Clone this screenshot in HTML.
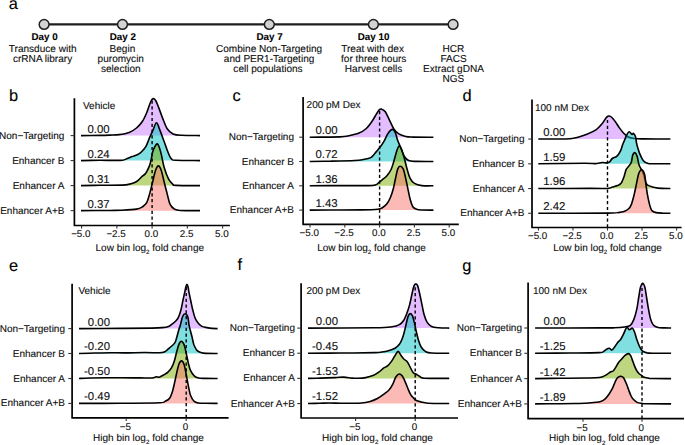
<!DOCTYPE html><html><head><meta charset="utf-8"><style>html,body{margin:0;padding:0;background:#fff;}svg{display:block;}text{font-family:"Liberation Sans", sans-serif;text-rendering:geometricPrecision;stroke:#000;stroke-width:0.2px;stroke-opacity:0.6;}</style></head><body>
<svg width="685" height="445" viewBox="0 0 685 445">
<rect width="685" height="445" fill="#fff"/>
<text x="8.70" y="8.90" font-size="16.40" text-anchor="start" font-weight="normal" fill="#000" >a</text>
<line x1="44.0" y1="24.40" x2="453" y2="24.40" stroke="#1e1e1e" stroke-width="2.3"/>
<circle cx="44.10" cy="24.40" r="4.9" fill="#d1d3d5" stroke="#1e1e1e" stroke-width="1.45"/>
<circle cx="122.50" cy="24.40" r="4.9" fill="#d1d3d5" stroke="#1e1e1e" stroke-width="1.45"/>
<circle cx="269.30" cy="24.40" r="4.9" fill="#d1d3d5" stroke="#1e1e1e" stroke-width="1.45"/>
<circle cx="373.40" cy="24.40" r="4.9" fill="#d1d3d5" stroke="#1e1e1e" stroke-width="1.45"/>
<circle cx="453.10" cy="24.40" r="4.9" fill="#d1d3d5" stroke="#1e1e1e" stroke-width="1.45"/>
<text x="44.55" y="39.50" font-size="9.80" text-anchor="middle" font-weight="bold" fill="#000" >Day 0</text>
<text x="42.65" y="51.70" font-size="10.05" text-anchor="middle" font-weight="normal" fill="#111" >Transduce with</text>
<text x="42.60" y="61.65" font-size="10.05" text-anchor="middle" font-weight="normal" fill="#111" >crRNA library</text>
<text x="122.85" y="39.50" font-size="9.80" text-anchor="middle" font-weight="bold" fill="#000" >Day 2</text>
<text x="122.40" y="51.70" font-size="10.05" text-anchor="middle" font-weight="normal" fill="#111" >Begin</text>
<text x="120.80" y="61.65" font-size="10.05" text-anchor="middle" font-weight="normal" fill="#111" >puromycin</text>
<text x="120.80" y="71.60" font-size="10.05" text-anchor="middle" font-weight="normal" fill="#111" >selection</text>
<text x="269.55" y="39.50" font-size="9.80" text-anchor="middle" font-weight="bold" fill="#000" >Day 7</text>
<text x="269.10" y="51.70" font-size="10.05" text-anchor="middle" font-weight="normal" fill="#111" >Combine Non-Targeting</text>
<text x="269.10" y="61.65" font-size="10.05" text-anchor="middle" font-weight="normal" fill="#111" >and PER1-Targeting</text>
<text x="268.00" y="71.60" font-size="10.05" text-anchor="middle" font-weight="normal" fill="#111" >cell populations</text>
<text x="373.60" y="39.50" font-size="9.80" text-anchor="middle" font-weight="bold" fill="#000" >Day 10</text>
<text x="372.60" y="51.70" font-size="10.05" text-anchor="middle" font-weight="normal" fill="#111" >Treat with dex</text>
<text x="373.70" y="61.65" font-size="10.05" text-anchor="middle" font-weight="normal" fill="#111" >for three hours</text>
<text x="373.60" y="71.60" font-size="10.05" text-anchor="middle" font-weight="normal" fill="#111" >Harvest cells</text>
<text x="453.40" y="51.70" font-size="10.05" text-anchor="middle" font-weight="normal" fill="#111" >HCR</text>
<text x="453.50" y="61.65" font-size="10.05" text-anchor="middle" font-weight="normal" fill="#111" >FACS</text>
<text x="453.50" y="71.60" font-size="10.05" text-anchor="middle" font-weight="normal" fill="#111" >Extract gDNA</text>
<text x="453.30" y="81.55" font-size="10.05" text-anchor="middle" font-weight="normal" fill="#111" >NGS</text>
<text x="8.90" y="101.20" font-size="16.40" text-anchor="start" font-weight="normal" fill="#000" >b</text>
<path d="M81.00,135.60 C84.17,135.57 95.17,135.48 100.00,135.40 C104.83,135.32 106.83,135.23 110.00,135.10 C113.17,134.97 115.80,135.05 119.00,134.60 C122.20,134.15 126.28,133.50 129.20,132.40 C132.12,131.30 134.32,129.82 136.50,128.00 C138.68,126.18 140.60,124.05 142.30,121.50 C144.00,118.95 145.35,115.87 146.70,112.70 C148.05,109.53 149.38,104.82 150.40,102.50 C151.42,100.18 151.95,99.17 152.80,98.80 C153.65,98.43 154.57,98.95 155.50,100.30 C156.43,101.65 157.18,103.85 158.40,106.90 C159.62,109.95 161.33,114.95 162.80,118.60 C164.27,122.25 165.50,126.25 167.20,128.80 C168.90,131.35 170.57,132.82 173.00,133.90 C175.43,134.98 177.30,135.02 181.80,135.30 C186.30,135.58 196.97,135.55 200.00,135.60 Z" fill="#C77CFF" fill-opacity="0.50" stroke="none"/><path d="M81.00,135.60 C84.17,135.57 95.17,135.48 100.00,135.40 C104.83,135.32 106.83,135.23 110.00,135.10 C113.17,134.97 115.80,135.05 119.00,134.60 C122.20,134.15 126.28,133.50 129.20,132.40 C132.12,131.30 134.32,129.82 136.50,128.00 C138.68,126.18 140.60,124.05 142.30,121.50 C144.00,118.95 145.35,115.87 146.70,112.70 C148.05,109.53 149.38,104.82 150.40,102.50 C151.42,100.18 151.95,99.17 152.80,98.80 C153.65,98.43 154.57,98.95 155.50,100.30 C156.43,101.65 157.18,103.85 158.40,106.90 C159.62,109.95 161.33,114.95 162.80,118.60 C164.27,122.25 165.50,126.25 167.20,128.80 C168.90,131.35 170.57,132.82 173.00,133.90 C175.43,134.98 177.30,135.02 181.80,135.30 C186.30,135.58 196.97,135.55 200.00,135.60" fill="none" stroke="#000" stroke-width="1.60" stroke-linejoin="round" stroke-linecap="butt"/>
<path d="M81.00,160.60 C84.17,160.55 94.83,160.33 100.00,160.30 C105.17,160.27 108.27,160.42 112.00,160.40 C115.73,160.38 119.85,160.52 122.40,160.20 C124.95,159.88 125.67,159.10 127.30,158.50 C128.93,157.90 130.55,157.22 132.20,156.60 C133.85,155.98 135.75,155.52 137.20,154.80 C138.65,154.08 139.87,153.13 140.90,152.30 C141.93,151.47 142.58,150.73 143.40,149.80 C144.22,148.87 145.08,147.93 145.80,146.70 C146.52,145.47 147.07,143.93 147.70,142.40 C148.33,140.87 149.02,138.88 149.60,137.50 C150.18,136.12 150.63,135.33 151.20,134.10 C151.77,132.87 152.12,131.98 153.00,130.10 C153.88,128.22 155.35,122.80 156.50,122.80 C157.65,122.80 158.62,126.93 159.90,130.10 C161.18,133.27 162.75,137.85 164.20,141.80 C165.65,145.75 167.38,150.95 168.60,153.80 C169.82,156.65 170.28,157.82 171.50,158.90 C172.72,159.98 171.15,160.02 175.90,160.30 C180.65,160.58 195.98,160.55 200.00,160.60 Z" fill="#00BFC4" fill-opacity="0.50" stroke="none"/><path d="M81.00,160.60 C84.17,160.55 94.83,160.33 100.00,160.30 C105.17,160.27 108.27,160.42 112.00,160.40 C115.73,160.38 119.85,160.52 122.40,160.20 C124.95,159.88 125.67,159.10 127.30,158.50 C128.93,157.90 130.55,157.22 132.20,156.60 C133.85,155.98 135.75,155.52 137.20,154.80 C138.65,154.08 139.87,153.13 140.90,152.30 C141.93,151.47 142.58,150.73 143.40,149.80 C144.22,148.87 145.08,147.93 145.80,146.70 C146.52,145.47 147.07,143.93 147.70,142.40 C148.33,140.87 149.02,138.88 149.60,137.50 C150.18,136.12 150.63,135.33 151.20,134.10 C151.77,132.87 152.12,131.98 153.00,130.10 C153.88,128.22 155.35,122.80 156.50,122.80 C157.65,122.80 158.62,126.93 159.90,130.10 C161.18,133.27 162.75,137.85 164.20,141.80 C165.65,145.75 167.38,150.95 168.60,153.80 C169.82,156.65 170.28,157.82 171.50,158.90 C172.72,159.98 171.15,160.02 175.90,160.30 C180.65,160.58 195.98,160.55 200.00,160.60" fill="none" stroke="#000" stroke-width="1.60" stroke-linejoin="round" stroke-linecap="butt"/>
<path d="M81.00,185.60 C84.17,185.55 93.10,185.38 100.00,185.30 C106.90,185.22 117.65,185.25 122.40,185.10 C127.15,184.95 126.45,184.82 128.50,184.40 C130.55,183.98 133.05,183.32 134.70,182.60 C136.35,181.88 137.17,181.13 138.40,180.10 C139.63,179.07 140.97,177.43 142.10,176.40 C143.23,175.37 144.37,174.83 145.20,173.90 C146.03,172.97 146.48,171.93 147.10,170.80 C147.72,169.67 148.38,168.33 148.90,167.10 C149.42,165.87 149.78,164.83 150.20,163.40 C150.62,161.97 151.00,160.35 151.40,158.50 C151.80,156.65 152.08,154.15 152.60,152.30 C153.12,150.45 153.68,148.80 154.50,147.40 C155.32,146.00 156.48,143.20 157.50,143.90 C158.52,144.60 159.48,147.67 160.60,151.60 C161.72,155.53 162.87,162.90 164.20,167.50 C165.53,172.10 167.13,176.40 168.60,179.20 C170.07,182.00 171.77,183.27 173.00,184.30 C174.23,185.33 171.50,185.18 176.00,185.40 C180.50,185.62 196.00,185.57 200.00,185.60 Z" fill="#7CAE00" fill-opacity="0.50" stroke="none"/><path d="M81.00,185.60 C84.17,185.55 93.10,185.38 100.00,185.30 C106.90,185.22 117.65,185.25 122.40,185.10 C127.15,184.95 126.45,184.82 128.50,184.40 C130.55,183.98 133.05,183.32 134.70,182.60 C136.35,181.88 137.17,181.13 138.40,180.10 C139.63,179.07 140.97,177.43 142.10,176.40 C143.23,175.37 144.37,174.83 145.20,173.90 C146.03,172.97 146.48,171.93 147.10,170.80 C147.72,169.67 148.38,168.33 148.90,167.10 C149.42,165.87 149.78,164.83 150.20,163.40 C150.62,161.97 151.00,160.35 151.40,158.50 C151.80,156.65 152.08,154.15 152.60,152.30 C153.12,150.45 153.68,148.80 154.50,147.40 C155.32,146.00 156.48,143.20 157.50,143.90 C158.52,144.60 159.48,147.67 160.60,151.60 C161.72,155.53 162.87,162.90 164.20,167.50 C165.53,172.10 167.13,176.40 168.60,179.20 C170.07,182.00 171.77,183.27 173.00,184.30 C174.23,185.33 171.50,185.18 176.00,185.40 C180.50,185.62 196.00,185.57 200.00,185.60" fill="none" stroke="#000" stroke-width="1.60" stroke-linejoin="round" stroke-linecap="butt"/>
<path d="M81.00,210.65 C85.83,210.62 103.18,210.52 110.00,210.45 C116.82,210.38 117.48,210.47 121.90,210.25 C126.32,210.03 133.10,209.70 136.50,209.15 C139.90,208.60 140.60,208.03 142.30,206.95 C144.00,205.87 145.48,204.83 146.70,202.65 C147.92,200.47 148.62,197.27 149.60,193.85 C150.58,190.43 151.62,186.05 152.60,182.15 C153.58,178.25 154.53,173.17 155.50,170.45 C156.47,167.73 157.43,165.85 158.40,165.85 C159.37,165.85 160.33,167.73 161.30,170.45 C162.27,173.17 163.22,178.25 164.20,182.15 C165.18,186.05 166.23,190.20 167.20,193.85 C168.17,197.50 168.78,201.50 170.00,204.05 C171.22,206.60 172.78,208.08 174.50,209.15 C176.22,210.22 176.05,210.20 180.30,210.45 C184.55,210.70 196.72,210.62 200.00,210.65 Z" fill="#F8766D" fill-opacity="0.50" stroke="none"/><path d="M81.00,210.65 C85.83,210.62 103.18,210.52 110.00,210.45 C116.82,210.38 117.48,210.47 121.90,210.25 C126.32,210.03 133.10,209.70 136.50,209.15 C139.90,208.60 140.60,208.03 142.30,206.95 C144.00,205.87 145.48,204.83 146.70,202.65 C147.92,200.47 148.62,197.27 149.60,193.85 C150.58,190.43 151.62,186.05 152.60,182.15 C153.58,178.25 154.53,173.17 155.50,170.45 C156.47,167.73 157.43,165.85 158.40,165.85 C159.37,165.85 160.33,167.73 161.30,170.45 C162.27,173.17 163.22,178.25 164.20,182.15 C165.18,186.05 166.23,190.20 167.20,193.85 C168.17,197.50 168.78,201.50 170.00,204.05 C171.22,206.60 172.78,208.08 174.50,209.15 C176.22,210.22 176.05,210.20 180.30,210.45 C184.55,210.70 196.72,210.62 200.00,210.65" fill="none" stroke="#000" stroke-width="1.60" stroke-linejoin="round" stroke-linecap="butt"/>
<line x1="152.10" y1="225.50" x2="152.10" y2="99.32" stroke="#000" stroke-width="1.4" stroke-dasharray="3.2,2.6"/>
<path d="M74.40,98.30 L74.40,225.50 L229.90,225.50" fill="none" stroke="#000" stroke-width="1.7" stroke-linejoin="round" stroke-linecap="butt"/>
<line x1="70.60" y1="135.60" x2="74.40" y2="135.60" stroke="#333" stroke-width="1.1"/>
<text x="64.40" y="138.60" font-size="10.00" text-anchor="end" font-weight="normal" fill="#111" >Non−Targeting</text>
<text x="109.60" y="132.50" font-size="11.40" text-anchor="end" font-weight="normal" fill="#111" >0.00</text>
<line x1="70.60" y1="160.60" x2="74.40" y2="160.60" stroke="#333" stroke-width="1.1"/>
<text x="64.40" y="163.60" font-size="10.00" text-anchor="end" font-weight="normal" fill="#111" >Enhancer B</text>
<text x="109.60" y="157.50" font-size="11.40" text-anchor="end" font-weight="normal" fill="#111" >0.24</text>
<line x1="70.60" y1="185.60" x2="74.40" y2="185.60" stroke="#333" stroke-width="1.1"/>
<text x="64.40" y="188.60" font-size="10.00" text-anchor="end" font-weight="normal" fill="#111" >Enhancer A</text>
<text x="109.60" y="182.50" font-size="11.40" text-anchor="end" font-weight="normal" fill="#111" >0.31</text>
<line x1="70.60" y1="210.65" x2="74.40" y2="210.65" stroke="#333" stroke-width="1.1"/>
<text x="64.40" y="213.65" font-size="10.00" text-anchor="end" font-weight="normal" fill="#111" >Enhancer A+B</text>
<text x="109.60" y="207.55" font-size="11.40" text-anchor="end" font-weight="normal" fill="#111" >0.37</text>
<line x1="81.60" y1="225.50" x2="81.60" y2="228.50" stroke="#333" stroke-width="1.1"/>
<text x="80.80" y="236.80" font-size="9.80" text-anchor="middle" font-weight="normal" fill="#111" >−5.0</text>
<line x1="116.85" y1="225.50" x2="116.85" y2="228.50" stroke="#333" stroke-width="1.1"/>
<text x="116.05" y="236.80" font-size="9.80" text-anchor="middle" font-weight="normal" fill="#111" >−2.5</text>
<line x1="152.10" y1="225.50" x2="152.10" y2="228.50" stroke="#333" stroke-width="1.1"/>
<text x="151.30" y="236.80" font-size="9.80" text-anchor="middle" font-weight="normal" fill="#111" >0.0</text>
<line x1="187.35" y1="225.50" x2="187.35" y2="228.50" stroke="#333" stroke-width="1.1"/>
<text x="186.55" y="236.80" font-size="9.80" text-anchor="middle" font-weight="normal" fill="#111" >2.5</text>
<line x1="222.60" y1="225.50" x2="222.60" y2="228.50" stroke="#333" stroke-width="1.1"/>
<text x="221.80" y="236.80" font-size="9.80" text-anchor="middle" font-weight="normal" fill="#111" >5.0</text>
<text x="149.80" y="250.60" font-size="10.00" text-anchor="middle" fill="#111">Low bin log<tspan font-size="6.20" dy="3.3">2</tspan><tspan dy="-3.3"> fold change</tspan></text>
<text x="83.00" y="108.60" font-size="10.00" text-anchor="start" font-weight="normal" fill="#111" >Vehicle</text>
<text x="232.50" y="101.20" font-size="16.40" text-anchor="start" font-weight="normal" fill="#000" >c</text>
<path d="M309.70,137.20 C311.42,137.18 314.95,137.15 320.00,137.10 C325.05,137.05 335.20,137.12 340.00,136.90 C344.80,136.68 345.63,136.43 348.80,135.80 C351.97,135.17 356.08,134.32 359.00,133.10 C361.92,131.88 364.12,130.48 366.30,128.50 C368.48,126.52 370.40,123.63 372.10,121.20 C373.80,118.77 375.28,115.82 376.50,113.90 C377.72,111.98 378.55,110.50 379.40,109.70 C380.25,108.90 380.62,108.77 381.60,109.10 C382.58,109.43 383.97,109.82 385.30,111.70 C386.63,113.58 388.15,117.48 389.60,120.40 C391.05,123.32 392.53,127.00 394.00,129.20 C395.47,131.40 396.45,132.38 398.40,133.60 C400.35,134.82 403.27,135.92 405.70,136.50 C408.13,137.08 408.38,136.98 413.00,137.10 C417.62,137.22 430.00,137.18 433.40,137.20 Z" fill="#C77CFF" fill-opacity="0.50" stroke="none"/><path d="M309.70,137.20 C311.42,137.18 314.95,137.15 320.00,137.10 C325.05,137.05 335.20,137.12 340.00,136.90 C344.80,136.68 345.63,136.43 348.80,135.80 C351.97,135.17 356.08,134.32 359.00,133.10 C361.92,131.88 364.12,130.48 366.30,128.50 C368.48,126.52 370.40,123.63 372.10,121.20 C373.80,118.77 375.28,115.82 376.50,113.90 C377.72,111.98 378.55,110.50 379.40,109.70 C380.25,108.90 380.62,108.77 381.60,109.10 C382.58,109.43 383.97,109.82 385.30,111.70 C386.63,113.58 388.15,117.48 389.60,120.40 C391.05,123.32 392.53,127.00 394.00,129.20 C395.47,131.40 396.45,132.38 398.40,133.60 C400.35,134.82 403.27,135.92 405.70,136.50 C408.13,137.08 408.38,136.98 413.00,137.10 C417.62,137.22 430.00,137.18 433.40,137.20" fill="none" stroke="#000" stroke-width="1.60" stroke-linejoin="round" stroke-linecap="butt"/>
<path d="M309.70,161.50 C313.08,161.45 322.52,161.37 330.00,161.20 C337.48,161.03 349.03,160.78 354.60,160.50 C360.17,160.22 360.72,159.98 363.40,159.50 C366.08,159.02 368.77,158.65 370.70,157.60 C372.63,156.55 373.55,154.78 375.00,153.20 C376.45,151.62 377.93,150.03 379.40,148.10 C380.87,146.17 382.33,144.10 383.80,141.60 C385.27,139.10 386.73,135.13 388.20,133.10 C389.67,131.07 391.38,129.40 392.60,129.40 C393.82,129.40 394.65,131.25 395.50,133.10 C396.35,134.95 396.73,137.87 397.70,140.50 C398.67,143.13 400.22,146.28 401.30,148.90 C402.38,151.52 402.98,154.27 404.20,156.20 C405.42,158.13 406.65,159.63 408.60,160.50 C410.55,161.37 411.77,161.23 415.90,161.40 C420.03,161.57 430.48,161.48 433.40,161.50 Z" fill="#00BFC4" fill-opacity="0.50" stroke="none"/><path d="M309.70,161.50 C313.08,161.45 322.52,161.37 330.00,161.20 C337.48,161.03 349.03,160.78 354.60,160.50 C360.17,160.22 360.72,159.98 363.40,159.50 C366.08,159.02 368.77,158.65 370.70,157.60 C372.63,156.55 373.55,154.78 375.00,153.20 C376.45,151.62 377.93,150.03 379.40,148.10 C380.87,146.17 382.33,144.10 383.80,141.60 C385.27,139.10 386.73,135.13 388.20,133.10 C389.67,131.07 391.38,129.40 392.60,129.40 C393.82,129.40 394.65,131.25 395.50,133.10 C396.35,134.95 396.73,137.87 397.70,140.50 C398.67,143.13 400.22,146.28 401.30,148.90 C402.38,151.52 402.98,154.27 404.20,156.20 C405.42,158.13 406.65,159.63 408.60,160.50 C410.55,161.37 411.77,161.23 415.90,161.40 C420.03,161.57 430.48,161.48 433.40,161.50" fill="none" stroke="#000" stroke-width="1.60" stroke-linejoin="round" stroke-linecap="butt"/>
<path d="M309.70,185.80 C314.75,185.77 330.08,185.63 340.00,185.60 C349.92,185.57 363.23,185.73 369.20,185.60 C375.17,185.47 374.22,185.30 375.80,184.80 C377.38,184.30 377.62,183.45 378.70,182.60 C379.78,181.75 380.97,180.78 382.30,179.70 C383.63,178.62 385.23,177.80 386.70,176.10 C388.17,174.40 389.88,172.07 391.10,169.50 C392.32,166.93 393.03,163.87 394.00,160.70 C394.97,157.53 396.05,152.93 396.90,150.50 C397.75,148.07 398.37,146.33 399.10,146.10 C399.83,145.87 400.45,147.15 401.30,149.10 C402.15,151.05 403.22,154.40 404.20,157.80 C405.18,161.20 406.22,166.08 407.20,169.50 C408.18,172.92 408.88,175.98 410.10,178.30 C411.32,180.62 412.55,182.18 414.50,183.40 C416.45,184.62 418.65,185.20 421.80,185.60 C424.95,186.00 431.47,185.77 433.40,185.80 Z" fill="#7CAE00" fill-opacity="0.50" stroke="none"/><path d="M309.70,185.80 C314.75,185.77 330.08,185.63 340.00,185.60 C349.92,185.57 363.23,185.73 369.20,185.60 C375.17,185.47 374.22,185.30 375.80,184.80 C377.38,184.30 377.62,183.45 378.70,182.60 C379.78,181.75 380.97,180.78 382.30,179.70 C383.63,178.62 385.23,177.80 386.70,176.10 C388.17,174.40 389.88,172.07 391.10,169.50 C392.32,166.93 393.03,163.87 394.00,160.70 C394.97,157.53 396.05,152.93 396.90,150.50 C397.75,148.07 398.37,146.33 399.10,146.10 C399.83,145.87 400.45,147.15 401.30,149.10 C402.15,151.05 403.22,154.40 404.20,157.80 C405.18,161.20 406.22,166.08 407.20,169.50 C408.18,172.92 408.88,175.98 410.10,178.30 C411.32,180.62 412.55,182.18 414.50,183.40 C416.45,184.62 418.65,185.20 421.80,185.60 C424.95,186.00 431.47,185.77 433.40,185.80" fill="none" stroke="#000" stroke-width="1.60" stroke-linejoin="round" stroke-linecap="butt"/>
<path d="M309.70,210.10 C313.08,210.08 321.30,210.03 330.00,210.00 C338.70,209.97 353.90,210.03 361.90,209.90 C369.90,209.77 374.60,209.57 378.00,209.20 C381.40,208.83 380.85,208.55 382.30,207.70 C383.75,206.85 385.35,205.80 386.70,204.10 C388.05,202.40 389.30,200.05 390.40,197.50 C391.50,194.95 392.45,191.97 393.30,188.80 C394.15,185.63 394.77,181.78 395.50,178.50 C396.23,175.22 396.93,171.13 397.70,169.10 C398.47,167.07 399.17,166.30 400.10,166.30 C401.03,166.30 402.37,167.07 403.30,169.10 C404.23,171.13 404.93,175.22 405.70,178.50 C406.47,181.78 407.17,185.38 407.90,188.80 C408.63,192.22 409.25,195.97 410.10,199.00 C410.95,202.03 411.78,205.25 413.00,207.00 C414.22,208.75 415.90,209.00 417.40,209.50 C418.90,210.00 419.33,209.90 422.00,210.00 C424.67,210.10 431.50,210.08 433.40,210.10 Z" fill="#F8766D" fill-opacity="0.50" stroke="none"/><path d="M309.70,210.10 C313.08,210.08 321.30,210.03 330.00,210.00 C338.70,209.97 353.90,210.03 361.90,209.90 C369.90,209.77 374.60,209.57 378.00,209.20 C381.40,208.83 380.85,208.55 382.30,207.70 C383.75,206.85 385.35,205.80 386.70,204.10 C388.05,202.40 389.30,200.05 390.40,197.50 C391.50,194.95 392.45,191.97 393.30,188.80 C394.15,185.63 394.77,181.78 395.50,178.50 C396.23,175.22 396.93,171.13 397.70,169.10 C398.47,167.07 399.17,166.30 400.10,166.30 C401.03,166.30 402.37,167.07 403.30,169.10 C404.23,171.13 404.93,175.22 405.70,178.50 C406.47,181.78 407.17,185.38 407.90,188.80 C408.63,192.22 409.25,195.97 410.10,199.00 C410.95,202.03 411.78,205.25 413.00,207.00 C414.22,208.75 415.90,209.00 417.40,209.50 C418.90,210.00 419.33,209.90 422.00,210.00 C424.67,210.10 431.50,210.08 433.40,210.10" fill="none" stroke="#000" stroke-width="1.60" stroke-linejoin="round" stroke-linecap="butt"/>
<line x1="379.60" y1="224.40" x2="379.60" y2="109.52" stroke="#000" stroke-width="1.4" stroke-dasharray="3.2,2.6"/>
<path d="M303.10,96.90 L303.10,224.40 L458.80,224.40" fill="none" stroke="#000" stroke-width="1.7" stroke-linejoin="round" stroke-linecap="butt"/>
<line x1="299.30" y1="137.20" x2="303.10" y2="137.20" stroke="#333" stroke-width="1.1"/>
<text x="294.00" y="140.20" font-size="10.00" text-anchor="end" font-weight="normal" fill="#111" >Non−Targeting</text>
<text x="337.60" y="134.10" font-size="11.40" text-anchor="end" font-weight="normal" fill="#111" >0.00</text>
<line x1="299.30" y1="161.50" x2="303.10" y2="161.50" stroke="#333" stroke-width="1.1"/>
<text x="294.00" y="164.50" font-size="10.00" text-anchor="end" font-weight="normal" fill="#111" >Enhancer B</text>
<text x="337.60" y="158.40" font-size="11.40" text-anchor="end" font-weight="normal" fill="#111" >0.72</text>
<line x1="299.30" y1="185.80" x2="303.10" y2="185.80" stroke="#333" stroke-width="1.1"/>
<text x="294.00" y="188.80" font-size="10.00" text-anchor="end" font-weight="normal" fill="#111" >Enhancer A</text>
<text x="337.60" y="182.70" font-size="11.40" text-anchor="end" font-weight="normal" fill="#111" >1.36</text>
<line x1="299.30" y1="210.10" x2="303.10" y2="210.10" stroke="#333" stroke-width="1.1"/>
<text x="294.00" y="213.10" font-size="10.00" text-anchor="end" font-weight="normal" fill="#111" >Enhancer A+B</text>
<text x="337.60" y="207.00" font-size="11.40" text-anchor="end" font-weight="normal" fill="#111" >1.43</text>
<line x1="310.00" y1="224.40" x2="310.00" y2="227.40" stroke="#333" stroke-width="1.1"/>
<text x="309.20" y="236.10" font-size="9.80" text-anchor="middle" font-weight="normal" fill="#111" >−5.0</text>
<line x1="344.80" y1="224.40" x2="344.80" y2="227.40" stroke="#333" stroke-width="1.1"/>
<text x="344.00" y="236.10" font-size="9.80" text-anchor="middle" font-weight="normal" fill="#111" >−2.5</text>
<line x1="379.60" y1="224.40" x2="379.60" y2="227.40" stroke="#333" stroke-width="1.1"/>
<text x="378.80" y="236.10" font-size="9.80" text-anchor="middle" font-weight="normal" fill="#111" >0.0</text>
<line x1="414.40" y1="224.40" x2="414.40" y2="227.40" stroke="#333" stroke-width="1.1"/>
<text x="413.60" y="236.10" font-size="9.80" text-anchor="middle" font-weight="normal" fill="#111" >2.5</text>
<line x1="449.20" y1="224.40" x2="449.20" y2="227.40" stroke="#333" stroke-width="1.1"/>
<text x="448.40" y="236.10" font-size="9.80" text-anchor="middle" font-weight="normal" fill="#111" >5.0</text>
<text x="371.50" y="250.60" font-size="10.00" text-anchor="middle" fill="#111">Low bin log<tspan font-size="6.20" dy="3.3">2</tspan><tspan dy="-3.3"> fold change</tspan></text>
<text x="306.60" y="108.10" font-size="10.00" text-anchor="start" font-weight="normal" fill="#111" >200 pM Dex</text>
<text x="462.50" y="101.20" font-size="16.40" text-anchor="start" font-weight="normal" fill="#000" >d</text>
<path d="M538.30,139.05 C540.25,139.03 544.72,139.00 550.00,138.95 C555.28,138.90 565.20,139.08 570.00,138.75 C574.80,138.42 575.88,137.73 578.80,136.95 C581.72,136.17 584.58,135.27 587.50,134.05 C590.42,132.83 593.98,131.23 596.30,129.65 C598.62,128.07 599.95,126.25 601.40,124.55 C602.85,122.85 604.03,120.78 605.00,119.45 C605.97,118.12 606.52,117.12 607.20,116.55 C607.88,115.98 608.37,115.93 609.10,116.05 C609.83,116.17 610.57,116.32 611.60,117.25 C612.63,118.18 613.97,119.83 615.30,121.65 C616.63,123.47 618.15,126.17 619.60,128.15 C621.05,130.13 622.53,132.08 624.00,133.55 C625.47,135.02 626.70,136.13 628.40,136.95 C630.10,137.77 631.77,138.13 634.20,138.45 C636.63,138.77 636.97,138.75 643.00,138.85 C649.03,138.95 665.83,139.02 670.40,139.05 Z" fill="#C77CFF" fill-opacity="0.50" stroke="none"/><path d="M538.30,139.05 C540.25,139.03 544.72,139.00 550.00,138.95 C555.28,138.90 565.20,139.08 570.00,138.75 C574.80,138.42 575.88,137.73 578.80,136.95 C581.72,136.17 584.58,135.27 587.50,134.05 C590.42,132.83 593.98,131.23 596.30,129.65 C598.62,128.07 599.95,126.25 601.40,124.55 C602.85,122.85 604.03,120.78 605.00,119.45 C605.97,118.12 606.52,117.12 607.20,116.55 C607.88,115.98 608.37,115.93 609.10,116.05 C609.83,116.17 610.57,116.32 611.60,117.25 C612.63,118.18 613.97,119.83 615.30,121.65 C616.63,123.47 618.15,126.17 619.60,128.15 C621.05,130.13 622.53,132.08 624.00,133.55 C625.47,135.02 626.70,136.13 628.40,136.95 C630.10,137.77 631.77,138.13 634.20,138.45 C636.63,138.77 636.97,138.75 643.00,138.85 C649.03,138.95 665.83,139.02 670.40,139.05" fill="none" stroke="#000" stroke-width="1.60" stroke-linejoin="round" stroke-linecap="butt"/>
<path d="M538.30,163.80 C546.02,163.70 575.15,163.23 584.60,163.20 C594.05,163.17 592.08,163.72 595.00,163.60 C597.92,163.48 600.18,162.62 602.10,162.50 C604.02,162.38 605.28,162.95 606.50,162.90 C607.72,162.85 608.43,162.93 609.40,162.20 C610.37,161.47 611.08,159.47 612.30,158.50 C613.52,157.53 615.35,157.62 616.70,156.40 C618.05,155.18 619.42,153.15 620.40,151.20 C621.38,149.25 621.88,146.60 622.60,144.70 C623.32,142.80 623.98,141.47 624.70,139.80 C625.42,138.13 626.17,136.03 626.90,134.70 C627.63,133.37 628.25,131.85 629.10,131.80 C629.95,131.75 631.27,134.12 632.00,134.40 C632.73,134.68 632.92,133.10 633.50,133.50 C634.08,133.90 635.00,135.25 635.50,136.80 C636.00,138.35 636.20,141.22 636.50,142.80 C636.80,144.38 636.78,144.53 637.30,146.30 C637.82,148.07 638.72,151.18 639.60,153.40 C640.48,155.62 641.70,158.13 642.60,159.60 C643.50,161.07 644.18,161.58 645.00,162.20 C645.82,162.82 646.37,163.05 647.50,163.30 C648.63,163.55 647.98,163.62 651.80,163.70 C655.62,163.78 667.30,163.78 670.40,163.80 Z" fill="#00BFC4" fill-opacity="0.50" stroke="none"/><path d="M538.30,163.80 C546.02,163.70 575.15,163.23 584.60,163.20 C594.05,163.17 592.08,163.72 595.00,163.60 C597.92,163.48 600.18,162.62 602.10,162.50 C604.02,162.38 605.28,162.95 606.50,162.90 C607.72,162.85 608.43,162.93 609.40,162.20 C610.37,161.47 611.08,159.47 612.30,158.50 C613.52,157.53 615.35,157.62 616.70,156.40 C618.05,155.18 619.42,153.15 620.40,151.20 C621.38,149.25 621.88,146.60 622.60,144.70 C623.32,142.80 623.98,141.47 624.70,139.80 C625.42,138.13 626.17,136.03 626.90,134.70 C627.63,133.37 628.25,131.85 629.10,131.80 C629.95,131.75 631.27,134.12 632.00,134.40 C632.73,134.68 632.92,133.10 633.50,133.50 C634.08,133.90 635.00,135.25 635.50,136.80 C636.00,138.35 636.20,141.22 636.50,142.80 C636.80,144.38 636.78,144.53 637.30,146.30 C637.82,148.07 638.72,151.18 639.60,153.40 C640.48,155.62 641.70,158.13 642.60,159.60 C643.50,161.07 644.18,161.58 645.00,162.20 C645.82,162.82 646.37,163.05 647.50,163.30 C648.63,163.55 647.98,163.62 651.80,163.70 C655.62,163.78 667.30,163.78 670.40,163.80" fill="none" stroke="#000" stroke-width="1.60" stroke-linejoin="round" stroke-linecap="butt"/>
<path d="M538.30,188.55 C546.92,188.52 578.52,188.37 590.00,188.35 C601.48,188.33 603.72,188.57 607.20,188.45 C610.68,188.33 609.80,187.95 610.90,187.65 C612.00,187.35 612.72,187.00 613.80,186.65 C614.88,186.30 616.18,186.10 617.40,185.55 C618.62,185.00 620.00,184.82 621.10,183.35 C622.20,181.88 623.15,179.07 624.00,176.75 C624.85,174.43 625.35,171.28 626.20,169.45 C627.05,167.62 628.25,166.97 629.10,165.75 C629.95,164.53 630.68,163.97 631.30,162.15 C631.92,160.33 632.18,156.43 632.80,154.85 C633.42,153.27 634.27,152.37 635.00,152.65 C635.73,152.93 636.52,154.48 637.20,156.55 C637.88,158.62 638.33,162.78 639.10,165.05 C639.87,167.32 641.02,168.48 641.80,170.15 C642.58,171.82 643.23,173.32 643.80,175.05 C644.37,176.78 644.75,179.05 645.20,180.55 C645.65,182.05 645.93,183.20 646.50,184.05 C647.07,184.90 647.58,185.17 648.60,185.65 C649.62,186.13 651.03,186.53 652.60,186.95 C654.17,187.37 655.03,187.88 658.00,188.15 C660.97,188.42 668.33,188.48 670.40,188.55 Z" fill="#7CAE00" fill-opacity="0.50" stroke="none"/><path d="M538.30,188.55 C546.92,188.52 578.52,188.37 590.00,188.35 C601.48,188.33 603.72,188.57 607.20,188.45 C610.68,188.33 609.80,187.95 610.90,187.65 C612.00,187.35 612.72,187.00 613.80,186.65 C614.88,186.30 616.18,186.10 617.40,185.55 C618.62,185.00 620.00,184.82 621.10,183.35 C622.20,181.88 623.15,179.07 624.00,176.75 C624.85,174.43 625.35,171.28 626.20,169.45 C627.05,167.62 628.25,166.97 629.10,165.75 C629.95,164.53 630.68,163.97 631.30,162.15 C631.92,160.33 632.18,156.43 632.80,154.85 C633.42,153.27 634.27,152.37 635.00,152.65 C635.73,152.93 636.52,154.48 637.20,156.55 C637.88,158.62 638.33,162.78 639.10,165.05 C639.87,167.32 641.02,168.48 641.80,170.15 C642.58,171.82 643.23,173.32 643.80,175.05 C644.37,176.78 644.75,179.05 645.20,180.55 C645.65,182.05 645.93,183.20 646.50,184.05 C647.07,184.90 647.58,185.17 648.60,185.65 C649.62,186.13 651.03,186.53 652.60,186.95 C654.17,187.37 655.03,187.88 658.00,188.15 C660.97,188.42 668.33,188.48 670.40,188.55" fill="none" stroke="#000" stroke-width="1.60" stroke-linejoin="round" stroke-linecap="butt"/>
<path d="M538.30,213.30 C549.92,213.27 594.68,213.22 608.00,213.10 C621.32,212.98 615.53,212.85 618.20,212.60 C620.87,212.35 622.30,212.20 624.00,211.60 C625.70,211.00 627.18,210.17 628.40,209.00 C629.62,207.83 630.33,207.03 631.30,204.60 C632.27,202.17 633.35,197.80 634.20,194.40 C635.05,191.00 635.67,187.60 636.40,184.20 C637.13,180.80 637.75,176.40 638.60,174.00 C639.45,171.60 640.52,169.80 641.50,169.80 C642.48,169.80 643.77,171.60 644.50,174.00 C645.23,176.40 645.42,180.80 645.90,184.20 C646.38,187.60 646.78,191.00 647.40,194.40 C648.02,197.80 648.87,201.92 649.60,204.60 C650.33,207.28 650.72,209.17 651.80,210.50 C652.88,211.83 654.17,212.15 656.10,212.60 C658.03,213.05 661.02,213.08 663.40,213.20 C665.78,213.32 669.23,213.28 670.40,213.30 Z" fill="#F8766D" fill-opacity="0.50" stroke="none"/><path d="M538.30,213.30 C549.92,213.27 594.68,213.22 608.00,213.10 C621.32,212.98 615.53,212.85 618.20,212.60 C620.87,212.35 622.30,212.20 624.00,211.60 C625.70,211.00 627.18,210.17 628.40,209.00 C629.62,207.83 630.33,207.03 631.30,204.60 C632.27,202.17 633.35,197.80 634.20,194.40 C635.05,191.00 635.67,187.60 636.40,184.20 C637.13,180.80 637.75,176.40 638.60,174.00 C639.45,171.60 640.52,169.80 641.50,169.80 C642.48,169.80 643.77,171.60 644.50,174.00 C645.23,176.40 645.42,180.80 645.90,184.20 C646.38,187.60 646.78,191.00 647.40,194.40 C648.02,197.80 648.87,201.92 649.60,204.60 C650.33,207.28 650.72,209.17 651.80,210.50 C652.88,211.83 654.17,212.15 656.10,212.60 C658.03,213.05 661.02,213.08 663.40,213.20 C665.78,213.32 669.23,213.28 670.40,213.30" fill="none" stroke="#000" stroke-width="1.60" stroke-linejoin="round" stroke-linecap="butt"/>
<line x1="607.50" y1="227.50" x2="607.50" y2="116.33" stroke="#000" stroke-width="1.4" stroke-dasharray="3.2,2.6"/>
<path d="M532.00,99.50 L532.00,227.50 L681.60,227.50" fill="none" stroke="#000" stroke-width="1.7" stroke-linejoin="round" stroke-linecap="butt"/>
<line x1="528.20" y1="139.05" x2="532.00" y2="139.05" stroke="#333" stroke-width="1.1"/>
<text x="524.50" y="142.05" font-size="10.00" text-anchor="end" font-weight="normal" fill="#111" >Non−Targeting</text>
<text x="565.40" y="135.95" font-size="11.40" text-anchor="end" font-weight="normal" fill="#111" >0.00</text>
<line x1="528.20" y1="163.80" x2="532.00" y2="163.80" stroke="#333" stroke-width="1.1"/>
<text x="524.50" y="166.80" font-size="10.00" text-anchor="end" font-weight="normal" fill="#111" >Enhancer B</text>
<text x="565.40" y="160.70" font-size="11.40" text-anchor="end" font-weight="normal" fill="#111" >1.59</text>
<line x1="528.20" y1="188.55" x2="532.00" y2="188.55" stroke="#333" stroke-width="1.1"/>
<text x="524.50" y="191.55" font-size="10.00" text-anchor="end" font-weight="normal" fill="#111" >Enhancer A</text>
<text x="565.40" y="185.45" font-size="11.40" text-anchor="end" font-weight="normal" fill="#111" >1.96</text>
<line x1="528.20" y1="213.30" x2="532.00" y2="213.30" stroke="#333" stroke-width="1.1"/>
<text x="524.50" y="216.30" font-size="10.00" text-anchor="end" font-weight="normal" fill="#111" >Enhancer A+B</text>
<text x="565.40" y="210.20" font-size="11.40" text-anchor="end" font-weight="normal" fill="#111" >2.42</text>
<line x1="538.40" y1="227.50" x2="538.40" y2="230.50" stroke="#333" stroke-width="1.1"/>
<text x="537.60" y="239.10" font-size="9.80" text-anchor="middle" font-weight="normal" fill="#111" >−5.0</text>
<line x1="572.95" y1="227.50" x2="572.95" y2="230.50" stroke="#333" stroke-width="1.1"/>
<text x="572.15" y="239.10" font-size="9.80" text-anchor="middle" font-weight="normal" fill="#111" >−2.5</text>
<line x1="607.50" y1="227.50" x2="607.50" y2="230.50" stroke="#333" stroke-width="1.1"/>
<text x="606.70" y="239.10" font-size="9.80" text-anchor="middle" font-weight="normal" fill="#111" >0.0</text>
<line x1="642.05" y1="227.50" x2="642.05" y2="230.50" stroke="#333" stroke-width="1.1"/>
<text x="641.25" y="239.10" font-size="9.80" text-anchor="middle" font-weight="normal" fill="#111" >2.5</text>
<line x1="676.60" y1="227.50" x2="676.60" y2="230.50" stroke="#333" stroke-width="1.1"/>
<text x="675.80" y="239.10" font-size="9.80" text-anchor="middle" font-weight="normal" fill="#111" >5.0</text>
<text x="607.50" y="250.60" font-size="10.00" text-anchor="middle" fill="#111">Low bin log<tspan font-size="6.20" dy="3.3">2</tspan><tspan dy="-3.3"> fold change</tspan></text>
<text x="535.00" y="110.50" font-size="10.00" text-anchor="start" font-weight="normal" fill="#111" >100 nM Dex</text>
<text x="8.90" y="270.60" font-size="16.40" text-anchor="start" font-weight="normal" fill="#000" >e</text>
<path d="M79.00,328.60 C85.83,328.57 107.85,328.48 120.00,328.40 C132.15,328.32 144.83,328.23 151.90,328.10 C158.97,327.97 159.62,327.88 162.40,327.60 C165.18,327.32 166.95,327.02 168.60,326.40 C170.25,325.78 171.07,324.83 172.30,323.90 C173.53,322.97 174.97,321.93 176.00,320.80 C177.03,319.67 177.67,318.95 178.50,317.10 C179.33,315.25 180.28,312.38 181.00,309.70 C181.72,307.02 182.18,303.88 182.80,301.00 C183.42,298.12 184.18,294.77 184.70,292.40 C185.22,290.03 185.53,288.13 185.90,286.80 C186.27,285.47 186.55,284.40 186.90,284.40 C187.25,284.40 187.65,285.47 188.00,286.80 C188.35,288.13 188.53,290.03 189.00,292.40 C189.47,294.77 190.18,298.12 190.80,301.00 C191.42,303.88 191.97,306.82 192.70,309.70 C193.43,312.58 194.27,316.03 195.20,318.30 C196.13,320.57 197.17,321.95 198.30,323.30 C199.43,324.65 200.57,325.68 202.00,326.40 C203.43,327.12 205.23,327.27 206.90,327.60 C208.57,327.93 210.22,328.23 212.00,328.40 C213.78,328.57 216.67,328.57 217.60,328.60 Z" fill="#C77CFF" fill-opacity="0.50" stroke="none"/><path d="M79.00,328.60 C85.83,328.57 107.85,328.48 120.00,328.40 C132.15,328.32 144.83,328.23 151.90,328.10 C158.97,327.97 159.62,327.88 162.40,327.60 C165.18,327.32 166.95,327.02 168.60,326.40 C170.25,325.78 171.07,324.83 172.30,323.90 C173.53,322.97 174.97,321.93 176.00,320.80 C177.03,319.67 177.67,318.95 178.50,317.10 C179.33,315.25 180.28,312.38 181.00,309.70 C181.72,307.02 182.18,303.88 182.80,301.00 C183.42,298.12 184.18,294.77 184.70,292.40 C185.22,290.03 185.53,288.13 185.90,286.80 C186.27,285.47 186.55,284.40 186.90,284.40 C187.25,284.40 187.65,285.47 188.00,286.80 C188.35,288.13 188.53,290.03 189.00,292.40 C189.47,294.77 190.18,298.12 190.80,301.00 C191.42,303.88 191.97,306.82 192.70,309.70 C193.43,312.58 194.27,316.03 195.20,318.30 C196.13,320.57 197.17,321.95 198.30,323.30 C199.43,324.65 200.57,325.68 202.00,326.40 C203.43,327.12 205.23,327.27 206.90,327.60 C208.57,327.93 210.22,328.23 212.00,328.40 C213.78,328.57 216.67,328.57 217.60,328.60" fill="none" stroke="#000" stroke-width="1.60" stroke-linejoin="round" stroke-linecap="butt"/>
<path d="M79.00,353.50 C81.67,353.42 89.83,353.13 95.00,353.00 C100.17,352.87 105.00,352.72 110.00,352.70 C115.00,352.68 119.23,352.93 125.00,352.90 C130.77,352.87 138.90,352.52 144.60,352.50 C150.30,352.48 155.92,352.87 159.20,352.80 C162.48,352.73 162.83,352.70 164.30,352.10 C165.77,351.50 166.67,350.30 168.00,349.20 C169.33,348.10 171.08,346.70 172.30,345.50 C173.52,344.30 174.45,343.75 175.30,342.00 C176.15,340.25 176.80,337.08 177.40,335.00 C178.00,332.92 178.40,331.17 178.90,329.50 C179.40,327.83 179.78,327.15 180.40,325.00 C181.02,322.85 181.80,318.48 182.60,316.60 C183.40,314.72 184.35,313.70 185.20,313.70 C186.05,313.70 187.05,314.65 187.70,316.60 C188.35,318.55 188.62,322.92 189.10,325.40 C189.58,327.88 190.12,329.60 190.60,331.50 C191.08,333.40 191.52,334.80 192.00,336.80 C192.48,338.80 193.10,341.97 193.50,343.50 C193.90,345.03 193.78,344.82 194.40,346.00 C195.02,347.18 196.02,349.47 197.20,350.60 C198.38,351.73 200.03,352.33 201.50,352.80 C202.97,353.27 203.32,353.28 206.00,353.40 C208.68,353.52 215.67,353.48 217.60,353.50 Z" fill="#00BFC4" fill-opacity="0.50" stroke="none"/><path d="M79.00,353.50 C81.67,353.42 89.83,353.13 95.00,353.00 C100.17,352.87 105.00,352.72 110.00,352.70 C115.00,352.68 119.23,352.93 125.00,352.90 C130.77,352.87 138.90,352.52 144.60,352.50 C150.30,352.48 155.92,352.87 159.20,352.80 C162.48,352.73 162.83,352.70 164.30,352.10 C165.77,351.50 166.67,350.30 168.00,349.20 C169.33,348.10 171.08,346.70 172.30,345.50 C173.52,344.30 174.45,343.75 175.30,342.00 C176.15,340.25 176.80,337.08 177.40,335.00 C178.00,332.92 178.40,331.17 178.90,329.50 C179.40,327.83 179.78,327.15 180.40,325.00 C181.02,322.85 181.80,318.48 182.60,316.60 C183.40,314.72 184.35,313.70 185.20,313.70 C186.05,313.70 187.05,314.65 187.70,316.60 C188.35,318.55 188.62,322.92 189.10,325.40 C189.58,327.88 190.12,329.60 190.60,331.50 C191.08,333.40 191.52,334.80 192.00,336.80 C192.48,338.80 193.10,341.97 193.50,343.50 C193.90,345.03 193.78,344.82 194.40,346.00 C195.02,347.18 196.02,349.47 197.20,350.60 C198.38,351.73 200.03,352.33 201.50,352.80 C202.97,353.27 203.32,353.28 206.00,353.40 C208.68,353.52 215.67,353.48 217.60,353.50" fill="none" stroke="#000" stroke-width="1.60" stroke-linejoin="round" stroke-linecap="butt"/>
<path d="M79.00,378.50 C80.83,378.42 83.17,378.13 90.00,378.00 C96.83,377.87 111.67,377.72 120.00,377.70 C128.33,377.68 134.68,377.85 140.00,377.90 C145.32,377.95 149.18,378.18 151.90,378.00 C154.62,377.82 155.08,376.93 156.30,376.80 C157.52,376.67 157.98,377.50 159.20,377.20 C160.42,376.90 162.13,375.85 163.60,375.00 C165.07,374.15 166.67,373.32 168.00,372.10 C169.33,370.88 170.52,369.65 171.60,367.70 C172.68,365.75 173.65,363.07 174.50,360.40 C175.35,357.73 175.97,354.37 176.70,351.70 C177.43,349.03 178.17,346.15 178.90,344.40 C179.63,342.65 180.25,341.20 181.10,341.20 C181.95,341.20 183.15,342.42 184.00,344.40 C184.85,346.38 185.47,349.93 186.20,353.10 C186.93,356.27 187.67,360.47 188.40,363.40 C189.13,366.33 189.63,368.63 190.60,370.70 C191.57,372.77 192.87,374.58 194.20,375.80 C195.53,377.02 196.80,377.57 198.60,378.00 C200.40,378.43 201.83,378.32 205.00,378.40 C208.17,378.48 215.50,378.48 217.60,378.50 Z" fill="#7CAE00" fill-opacity="0.50" stroke="none"/><path d="M79.00,378.50 C80.83,378.42 83.17,378.13 90.00,378.00 C96.83,377.87 111.67,377.72 120.00,377.70 C128.33,377.68 134.68,377.85 140.00,377.90 C145.32,377.95 149.18,378.18 151.90,378.00 C154.62,377.82 155.08,376.93 156.30,376.80 C157.52,376.67 157.98,377.50 159.20,377.20 C160.42,376.90 162.13,375.85 163.60,375.00 C165.07,374.15 166.67,373.32 168.00,372.10 C169.33,370.88 170.52,369.65 171.60,367.70 C172.68,365.75 173.65,363.07 174.50,360.40 C175.35,357.73 175.97,354.37 176.70,351.70 C177.43,349.03 178.17,346.15 178.90,344.40 C179.63,342.65 180.25,341.20 181.10,341.20 C181.95,341.20 183.15,342.42 184.00,344.40 C184.85,346.38 185.47,349.93 186.20,353.10 C186.93,356.27 187.67,360.47 188.40,363.40 C189.13,366.33 189.63,368.63 190.60,370.70 C191.57,372.77 192.87,374.58 194.20,375.80 C195.53,377.02 196.80,377.57 198.60,378.00 C200.40,378.43 201.83,378.32 205.00,378.40 C208.17,378.48 215.50,378.48 217.60,378.50" fill="none" stroke="#000" stroke-width="1.60" stroke-linejoin="round" stroke-linecap="butt"/>
<path d="M79.00,403.40 C85.83,403.38 106.63,403.40 120.00,403.30 C133.37,403.20 151.70,403.12 159.20,402.80 C166.70,402.48 163.30,402.12 165.00,401.40 C166.70,400.68 168.18,400.08 169.40,398.50 C170.62,396.92 171.45,394.47 172.30,391.90 C173.15,389.33 173.77,386.27 174.50,383.10 C175.23,379.93 175.97,376.05 176.70,372.90 C177.43,369.75 178.12,366.20 178.90,364.20 C179.68,362.20 180.55,360.90 181.40,360.90 C182.25,360.90 183.20,361.95 184.00,364.20 C184.80,366.45 185.47,370.75 186.20,374.40 C186.93,378.05 187.67,382.58 188.40,386.10 C189.13,389.62 189.63,392.95 190.60,395.50 C191.57,398.05 192.87,400.15 194.20,401.40 C195.53,402.65 196.80,402.68 198.60,403.00 C200.40,403.32 201.83,403.23 205.00,403.30 C208.17,403.37 215.50,403.38 217.60,403.40 Z" fill="#F8766D" fill-opacity="0.50" stroke="none"/><path d="M79.00,403.40 C85.83,403.38 106.63,403.40 120.00,403.30 C133.37,403.20 151.70,403.12 159.20,402.80 C166.70,402.48 163.30,402.12 165.00,401.40 C166.70,400.68 168.18,400.08 169.40,398.50 C170.62,396.92 171.45,394.47 172.30,391.90 C173.15,389.33 173.77,386.27 174.50,383.10 C175.23,379.93 175.97,376.05 176.70,372.90 C177.43,369.75 178.12,366.20 178.90,364.20 C179.68,362.20 180.55,360.90 181.40,360.90 C182.25,360.90 183.20,361.95 184.00,364.20 C184.80,366.45 185.47,370.75 186.20,374.40 C186.93,378.05 187.67,382.58 188.40,386.10 C189.13,389.62 189.63,392.95 190.60,395.50 C191.57,398.05 192.87,400.15 194.20,401.40 C195.53,402.65 196.80,402.68 198.60,403.00 C200.40,403.32 201.83,403.23 205.00,403.30 C208.17,403.37 215.50,403.38 217.60,403.40" fill="none" stroke="#000" stroke-width="1.60" stroke-linejoin="round" stroke-linecap="butt"/>
<line x1="186.20" y1="417.90" x2="186.20" y2="285.73" stroke="#000" stroke-width="1.4" stroke-dasharray="3.2,2.6"/>
<path d="M72.10,283.80 L72.10,417.90 L228.60,417.90" fill="none" stroke="#000" stroke-width="1.7" stroke-linejoin="round" stroke-linecap="butt"/>
<line x1="68.30" y1="328.60" x2="72.10" y2="328.60" stroke="#333" stroke-width="1.1"/>
<text x="65.00" y="331.60" font-size="10.00" text-anchor="end" font-weight="normal" fill="#111" >Non−Targeting</text>
<text x="110.00" y="325.50" font-size="11.40" text-anchor="end" font-weight="normal" fill="#111" >0.00</text>
<line x1="68.30" y1="353.50" x2="72.10" y2="353.50" stroke="#333" stroke-width="1.1"/>
<text x="65.00" y="356.50" font-size="10.00" text-anchor="end" font-weight="normal" fill="#111" >Enhancer B</text>
<text x="110.00" y="350.40" font-size="11.40" text-anchor="end" font-weight="normal" fill="#111" >-0.20</text>
<line x1="68.30" y1="378.50" x2="72.10" y2="378.50" stroke="#333" stroke-width="1.1"/>
<text x="65.00" y="381.50" font-size="10.00" text-anchor="end" font-weight="normal" fill="#111" >Enhancer A</text>
<text x="110.00" y="375.40" font-size="11.40" text-anchor="end" font-weight="normal" fill="#111" >-0.50</text>
<line x1="68.30" y1="403.40" x2="72.10" y2="403.40" stroke="#333" stroke-width="1.1"/>
<text x="65.00" y="406.40" font-size="10.00" text-anchor="end" font-weight="normal" fill="#111" >Enhancer A+B</text>
<text x="110.00" y="400.30" font-size="11.40" text-anchor="end" font-weight="normal" fill="#111" >-0.49</text>
<line x1="126.20" y1="417.90" x2="126.20" y2="420.90" stroke="#333" stroke-width="1.1"/>
<text x="125.40" y="429.90" font-size="9.80" text-anchor="middle" font-weight="normal" fill="#111" >−5</text>
<line x1="186.20" y1="417.90" x2="186.20" y2="420.90" stroke="#333" stroke-width="1.1"/>
<text x="185.40" y="429.90" font-size="9.80" text-anchor="middle" font-weight="normal" fill="#111" >0</text>
<text x="148.50" y="440.60" font-size="10.00" text-anchor="middle" fill="#111">High bin log<tspan font-size="6.20" dy="3.3">2</tspan><tspan dy="-3.3"> fold change</tspan></text>
<text x="78.40" y="293.60" font-size="10.00" text-anchor="start" font-weight="normal" fill="#111" >Vehicle</text>
<text x="237.50" y="270.40" font-size="16.40" text-anchor="start" font-weight="normal" fill="#000" >f</text>
<path d="M308.00,328.10 C319.10,328.05 360.58,328.02 374.60,327.80 C388.62,327.58 387.97,327.33 392.10,326.80 C396.23,326.27 397.45,325.70 399.40,324.60 C401.35,323.50 402.58,322.02 403.80,320.20 C405.02,318.38 405.73,316.25 406.70,313.70 C407.67,311.15 408.75,308.07 409.60,304.90 C410.45,301.73 411.07,297.87 411.80,294.70 C412.53,291.53 413.32,287.73 414.00,285.90 C414.68,284.07 415.28,283.70 415.90,283.70 C416.52,283.70 417.03,284.07 417.70,285.90 C418.37,287.73 419.18,291.53 419.90,294.70 C420.62,297.87 421.28,301.50 422.00,304.90 C422.72,308.30 423.33,312.18 424.20,315.10 C425.07,318.02 425.98,320.50 427.20,322.40 C428.42,324.30 429.57,325.60 431.50,326.50 C433.43,327.40 435.85,327.53 438.80,327.80 C441.75,328.07 447.47,328.05 449.20,328.10 Z" fill="#C77CFF" fill-opacity="0.50" stroke="none"/><path d="M308.00,328.10 C319.10,328.05 360.58,328.02 374.60,327.80 C388.62,327.58 387.97,327.33 392.10,326.80 C396.23,326.27 397.45,325.70 399.40,324.60 C401.35,323.50 402.58,322.02 403.80,320.20 C405.02,318.38 405.73,316.25 406.70,313.70 C407.67,311.15 408.75,308.07 409.60,304.90 C410.45,301.73 411.07,297.87 411.80,294.70 C412.53,291.53 413.32,287.73 414.00,285.90 C414.68,284.07 415.28,283.70 415.90,283.70 C416.52,283.70 417.03,284.07 417.70,285.90 C418.37,287.73 419.18,291.53 419.90,294.70 C420.62,297.87 421.28,301.50 422.00,304.90 C422.72,308.30 423.33,312.18 424.20,315.10 C425.07,318.02 425.98,320.50 427.20,322.40 C428.42,324.30 429.57,325.60 431.50,326.50 C433.43,327.40 435.85,327.53 438.80,327.80 C441.75,328.07 447.47,328.05 449.20,328.10" fill="none" stroke="#000" stroke-width="1.60" stroke-linejoin="round" stroke-linecap="butt"/>
<path d="M308.00,353.25 C313.33,353.22 328.90,353.15 340.00,353.05 C351.10,352.95 367.62,352.82 374.60,352.65 C381.58,352.48 379.47,352.42 381.90,352.05 C384.33,351.68 387.02,351.08 389.20,350.45 C391.38,349.82 393.30,349.27 395.00,348.25 C396.70,347.23 398.18,345.98 399.40,344.35 C400.62,342.72 401.45,340.65 402.30,338.45 C403.15,336.25 403.88,333.43 404.50,331.15 C405.12,328.87 405.38,327.25 406.00,324.75 C406.62,322.25 407.47,318.00 408.20,316.15 C408.93,314.30 409.67,313.65 410.40,313.65 C411.13,313.65 411.88,314.40 412.60,316.15 C413.32,317.90 414.10,321.65 414.70,324.15 C415.30,326.65 415.58,328.52 416.20,331.15 C416.82,333.78 417.55,337.27 418.40,339.95 C419.25,342.63 420.08,345.30 421.30,347.25 C422.52,349.20 424.00,350.68 425.70,351.65 C427.40,352.62 427.58,352.78 431.50,353.05 C435.42,353.32 446.25,353.22 449.20,353.25 Z" fill="#00BFC4" fill-opacity="0.50" stroke="none"/><path d="M308.00,353.25 C313.33,353.22 328.90,353.15 340.00,353.05 C351.10,352.95 367.62,352.82 374.60,352.65 C381.58,352.48 379.47,352.42 381.90,352.05 C384.33,351.68 387.02,351.08 389.20,350.45 C391.38,349.82 393.30,349.27 395.00,348.25 C396.70,347.23 398.18,345.98 399.40,344.35 C400.62,342.72 401.45,340.65 402.30,338.45 C403.15,336.25 403.88,333.43 404.50,331.15 C405.12,328.87 405.38,327.25 406.00,324.75 C406.62,322.25 407.47,318.00 408.20,316.15 C408.93,314.30 409.67,313.65 410.40,313.65 C411.13,313.65 411.88,314.40 412.60,316.15 C413.32,317.90 414.10,321.65 414.70,324.15 C415.30,326.65 415.58,328.52 416.20,331.15 C416.82,333.78 417.55,337.27 418.40,339.95 C419.25,342.63 420.08,345.30 421.30,347.25 C422.52,349.20 424.00,350.68 425.70,351.65 C427.40,352.62 427.58,352.78 431.50,353.05 C435.42,353.32 446.25,353.22 449.20,353.25" fill="none" stroke="#000" stroke-width="1.60" stroke-linejoin="round" stroke-linecap="butt"/>
<path d="M308.00,378.40 C310.00,378.35 315.50,378.23 320.00,378.10 C324.50,377.97 331.03,377.77 335.00,377.60 C338.97,377.43 340.97,377.02 343.80,377.10 C346.63,377.18 349.57,377.90 352.00,378.10 C354.43,378.30 356.12,378.38 358.40,378.30 C360.68,378.22 363.27,378.05 365.70,377.60 C368.13,377.15 370.82,376.50 373.00,375.60 C375.18,374.70 377.05,373.43 378.80,372.20 C380.55,370.97 382.05,369.25 383.50,368.20 C384.95,367.15 386.20,367.00 387.50,365.90 C388.80,364.80 390.07,363.28 391.30,361.60 C392.53,359.92 393.75,357.50 394.90,355.80 C396.05,354.10 397.20,351.48 398.20,351.40 C399.20,351.32 399.97,354.03 400.90,355.30 C401.83,356.57 402.72,357.90 403.80,359.00 C404.88,360.10 406.30,360.45 407.40,361.90 C408.50,363.35 409.42,365.88 410.40,367.70 C411.38,369.52 412.33,371.70 413.30,372.80 C414.27,373.90 415.10,373.68 416.20,374.30 C417.30,374.92 418.57,375.85 419.90,376.50 C421.23,377.15 419.32,377.88 424.20,378.20 C429.08,378.52 445.03,378.37 449.20,378.40 Z" fill="#7CAE00" fill-opacity="0.50" stroke="none"/><path d="M308.00,378.40 C310.00,378.35 315.50,378.23 320.00,378.10 C324.50,377.97 331.03,377.77 335.00,377.60 C338.97,377.43 340.97,377.02 343.80,377.10 C346.63,377.18 349.57,377.90 352.00,378.10 C354.43,378.30 356.12,378.38 358.40,378.30 C360.68,378.22 363.27,378.05 365.70,377.60 C368.13,377.15 370.82,376.50 373.00,375.60 C375.18,374.70 377.05,373.43 378.80,372.20 C380.55,370.97 382.05,369.25 383.50,368.20 C384.95,367.15 386.20,367.00 387.50,365.90 C388.80,364.80 390.07,363.28 391.30,361.60 C392.53,359.92 393.75,357.50 394.90,355.80 C396.05,354.10 397.20,351.48 398.20,351.40 C399.20,351.32 399.97,354.03 400.90,355.30 C401.83,356.57 402.72,357.90 403.80,359.00 C404.88,360.10 406.30,360.45 407.40,361.90 C408.50,363.35 409.42,365.88 410.40,367.70 C411.38,369.52 412.33,371.70 413.30,372.80 C414.27,373.90 415.10,373.68 416.20,374.30 C417.30,374.92 418.57,375.85 419.90,376.50 C421.23,377.15 419.32,377.88 424.20,378.20 C429.08,378.52 445.03,378.37 449.20,378.40" fill="none" stroke="#000" stroke-width="1.60" stroke-linejoin="round" stroke-linecap="butt"/>
<path d="M308.00,403.55 C310.00,403.50 316.47,403.35 320.00,403.25 C323.53,403.15 325.23,402.95 329.20,402.95 C333.17,402.95 338.45,403.25 343.80,403.25 C349.15,403.25 356.92,403.25 361.30,402.95 C365.68,402.65 367.42,402.18 370.10,401.45 C372.78,400.72 374.97,399.87 377.40,398.55 C379.83,397.23 382.73,395.02 384.70,393.55 C386.67,392.08 387.85,391.32 389.20,389.75 C390.55,388.18 391.70,386.27 392.80,384.15 C393.90,382.03 394.73,378.75 395.80,377.05 C396.87,375.35 398.12,374.13 399.20,373.95 C400.28,373.77 401.33,374.72 402.30,375.95 C403.27,377.18 404.10,379.33 405.00,381.35 C405.90,383.37 406.80,385.92 407.70,388.05 C408.60,390.18 409.50,392.57 410.40,394.15 C411.30,395.73 412.20,396.53 413.10,397.55 C414.00,398.57 414.45,399.52 415.80,400.25 C417.15,400.98 419.17,401.45 421.20,401.95 C423.23,402.45 423.33,402.98 428.00,403.25 C432.67,403.52 445.67,403.50 449.20,403.55 Z" fill="#F8766D" fill-opacity="0.50" stroke="none"/><path d="M308.00,403.55 C310.00,403.50 316.47,403.35 320.00,403.25 C323.53,403.15 325.23,402.95 329.20,402.95 C333.17,402.95 338.45,403.25 343.80,403.25 C349.15,403.25 356.92,403.25 361.30,402.95 C365.68,402.65 367.42,402.18 370.10,401.45 C372.78,400.72 374.97,399.87 377.40,398.55 C379.83,397.23 382.73,395.02 384.70,393.55 C386.67,392.08 387.85,391.32 389.20,389.75 C390.55,388.18 391.70,386.27 392.80,384.15 C393.90,382.03 394.73,378.75 395.80,377.05 C396.87,375.35 398.12,374.13 399.20,373.95 C400.28,373.77 401.33,374.72 402.30,375.95 C403.27,377.18 404.10,379.33 405.00,381.35 C405.90,383.37 406.80,385.92 407.70,388.05 C408.60,390.18 409.50,392.57 410.40,394.15 C411.30,395.73 412.20,396.53 413.10,397.55 C414.00,398.57 414.45,399.52 415.80,400.25 C417.15,400.98 419.17,401.45 421.20,401.95 C423.23,402.45 423.33,402.98 428.00,403.25 C432.67,403.52 445.67,403.50 449.20,403.55" fill="none" stroke="#000" stroke-width="1.60" stroke-linejoin="round" stroke-linecap="butt"/>
<line x1="415.20" y1="418.00" x2="415.20" y2="283.92" stroke="#000" stroke-width="1.4" stroke-dasharray="3.2,2.6"/>
<path d="M301.10,283.20 L301.10,418.00 L458.00,418.00" fill="none" stroke="#000" stroke-width="1.7" stroke-linejoin="round" stroke-linecap="butt"/>
<line x1="297.30" y1="328.10" x2="301.10" y2="328.10" stroke="#333" stroke-width="1.1"/>
<text x="295.00" y="331.10" font-size="10.00" text-anchor="end" font-weight="normal" fill="#111" >Non−Targeting</text>
<text x="338.00" y="325.00" font-size="11.40" text-anchor="end" font-weight="normal" fill="#111" >0.00</text>
<line x1="297.30" y1="353.25" x2="301.10" y2="353.25" stroke="#333" stroke-width="1.1"/>
<text x="295.00" y="356.25" font-size="10.00" text-anchor="end" font-weight="normal" fill="#111" >Enhancer B</text>
<text x="338.00" y="350.15" font-size="11.40" text-anchor="end" font-weight="normal" fill="#111" >-0.45</text>
<line x1="297.30" y1="378.40" x2="301.10" y2="378.40" stroke="#333" stroke-width="1.1"/>
<text x="295.00" y="381.40" font-size="10.00" text-anchor="end" font-weight="normal" fill="#111" >Enhancer A</text>
<text x="338.00" y="375.30" font-size="11.40" text-anchor="end" font-weight="normal" fill="#111" >-1.53</text>
<line x1="297.30" y1="403.55" x2="301.10" y2="403.55" stroke="#333" stroke-width="1.1"/>
<text x="295.00" y="406.55" font-size="10.00" text-anchor="end" font-weight="normal" fill="#111" >Enhancer A+B</text>
<text x="338.00" y="400.45" font-size="11.40" text-anchor="end" font-weight="normal" fill="#111" >-1.52</text>
<line x1="355.60" y1="418.00" x2="355.60" y2="421.00" stroke="#333" stroke-width="1.1"/>
<text x="354.80" y="429.90" font-size="9.80" text-anchor="middle" font-weight="normal" fill="#111" >−5</text>
<line x1="415.20" y1="418.00" x2="415.20" y2="421.00" stroke="#333" stroke-width="1.1"/>
<text x="414.40" y="429.90" font-size="9.80" text-anchor="middle" font-weight="normal" fill="#111" >0</text>
<text x="377.50" y="440.60" font-size="10.00" text-anchor="middle" fill="#111">High bin log<tspan font-size="6.20" dy="3.3">2</tspan><tspan dy="-3.3"> fold change</tspan></text>
<text x="306.40" y="293.80" font-size="10.00" text-anchor="start" font-weight="normal" fill="#111" >200 pM Dex</text>
<text x="462.30" y="270.60" font-size="16.40" text-anchor="start" font-weight="normal" fill="#000" >g</text>
<path d="M535.10,328.00 C545.92,327.98 586.82,327.93 600.00,327.90 C613.18,327.87 610.13,327.95 614.20,327.80 C618.27,327.65 621.72,327.42 624.40,327.00 C627.08,326.58 628.72,326.57 630.30,325.30 C631.88,324.03 632.82,322.08 633.90,319.40 C634.98,316.72 636.00,312.85 636.80,309.20 C637.60,305.55 638.08,301.15 638.70,297.50 C639.32,293.85 639.83,289.68 640.50,287.30 C641.17,284.92 641.97,283.20 642.70,283.20 C643.43,283.20 644.25,284.92 644.90,287.30 C645.55,289.68 646.00,293.85 646.60,297.50 C647.20,301.15 647.82,305.55 648.50,309.20 C649.18,312.85 649.85,316.72 650.70,319.40 C651.55,322.08 652.38,323.95 653.60,325.30 C654.82,326.65 656.27,327.07 658.00,327.50 C659.73,327.93 661.82,327.82 664.00,327.90 C666.18,327.98 669.92,327.98 671.10,328.00 Z" fill="#C77CFF" fill-opacity="0.50" stroke="none"/><path d="M535.10,328.00 C545.92,327.98 586.82,327.93 600.00,327.90 C613.18,327.87 610.13,327.95 614.20,327.80 C618.27,327.65 621.72,327.42 624.40,327.00 C627.08,326.58 628.72,326.57 630.30,325.30 C631.88,324.03 632.82,322.08 633.90,319.40 C634.98,316.72 636.00,312.85 636.80,309.20 C637.60,305.55 638.08,301.15 638.70,297.50 C639.32,293.85 639.83,289.68 640.50,287.30 C641.17,284.92 641.97,283.20 642.70,283.20 C643.43,283.20 644.25,284.92 644.90,287.30 C645.55,289.68 646.00,293.85 646.60,297.50 C647.20,301.15 647.82,305.55 648.50,309.20 C649.18,312.85 649.85,316.72 650.70,319.40 C651.55,322.08 652.38,323.95 653.60,325.30 C654.82,326.65 656.27,327.07 658.00,327.50 C659.73,327.93 661.82,327.82 664.00,327.90 C666.18,327.98 669.92,327.98 671.10,328.00" fill="none" stroke="#000" stroke-width="1.60" stroke-linejoin="round" stroke-linecap="butt"/>
<path d="M535.10,353.30 C540.92,353.25 559.38,353.12 570.00,353.00 C580.62,352.88 593.30,352.78 598.80,352.60 C604.30,352.42 601.82,352.38 603.00,351.90 C604.18,351.42 604.85,350.30 605.90,349.70 C606.95,349.10 608.32,348.23 609.30,348.30 C610.28,348.37 610.88,350.35 611.80,350.10 C612.72,349.85 613.82,348.08 614.80,346.80 C615.78,345.52 616.73,343.62 617.70,342.40 C618.67,341.18 619.63,340.88 620.60,339.50 C621.57,338.12 622.63,335.88 623.50,334.10 C624.37,332.32 625.17,329.90 625.80,328.80 C626.43,327.70 626.68,327.33 627.30,327.50 C627.92,327.67 628.65,329.70 629.50,329.80 C630.35,329.90 631.55,327.70 632.40,328.10 C633.25,328.50 633.87,330.30 634.60,332.20 C635.33,334.10 635.95,337.07 636.80,339.50 C637.65,341.93 638.73,344.85 639.70,346.80 C640.67,348.75 641.38,350.18 642.60,351.20 C643.82,352.22 645.43,352.57 647.00,352.90 C648.57,353.23 647.98,353.13 652.00,353.20 C656.02,353.27 667.92,353.28 671.10,353.30 Z" fill="#00BFC4" fill-opacity="0.50" stroke="none"/><path d="M535.10,353.30 C540.92,353.25 559.38,353.12 570.00,353.00 C580.62,352.88 593.30,352.78 598.80,352.60 C604.30,352.42 601.82,352.38 603.00,351.90 C604.18,351.42 604.85,350.30 605.90,349.70 C606.95,349.10 608.32,348.23 609.30,348.30 C610.28,348.37 610.88,350.35 611.80,350.10 C612.72,349.85 613.82,348.08 614.80,346.80 C615.78,345.52 616.73,343.62 617.70,342.40 C618.67,341.18 619.63,340.88 620.60,339.50 C621.57,338.12 622.63,335.88 623.50,334.10 C624.37,332.32 625.17,329.90 625.80,328.80 C626.43,327.70 626.68,327.33 627.30,327.50 C627.92,327.67 628.65,329.70 629.50,329.80 C630.35,329.90 631.55,327.70 632.40,328.10 C633.25,328.50 633.87,330.30 634.60,332.20 C635.33,334.10 635.95,337.07 636.80,339.50 C637.65,341.93 638.73,344.85 639.70,346.80 C640.67,348.75 641.38,350.18 642.60,351.20 C643.82,352.22 645.43,352.57 647.00,352.90 C648.57,353.23 647.98,353.13 652.00,353.20 C656.02,353.27 667.92,353.28 671.10,353.30" fill="none" stroke="#000" stroke-width="1.60" stroke-linejoin="round" stroke-linecap="butt"/>
<path d="M535.10,378.60 C539.25,378.55 551.68,378.40 560.00,378.30 C568.32,378.20 579.17,378.08 585.00,378.00 C590.83,377.92 592.18,377.98 595.00,377.80 C597.82,377.62 599.82,377.52 601.90,376.90 C603.98,376.28 606.02,374.95 607.50,374.10 C608.98,373.25 609.87,372.32 610.80,371.80 C611.73,371.28 612.35,371.65 613.10,371.00 C613.85,370.35 614.37,369.35 615.30,367.90 C616.23,366.45 617.75,363.65 618.70,362.30 C619.65,360.95 619.95,360.97 621.00,359.80 C622.05,358.63 623.72,356.33 625.00,355.30 C626.28,354.27 627.72,353.47 628.70,353.60 C629.68,353.73 630.32,355.10 630.90,356.10 C631.48,357.10 631.62,358.02 632.20,359.60 C632.78,361.18 633.65,363.75 634.40,365.60 C635.15,367.45 635.95,369.38 636.70,370.70 C637.45,372.02 638.15,372.75 638.90,373.50 C639.65,374.25 640.45,374.63 641.20,375.20 C641.95,375.77 642.28,376.43 643.40,376.90 C644.52,377.37 646.47,377.73 647.90,378.00 C649.33,378.27 648.13,378.40 652.00,378.50 C655.87,378.60 667.92,378.58 671.10,378.60 Z" fill="#7CAE00" fill-opacity="0.50" stroke="none"/><path d="M535.10,378.60 C539.25,378.55 551.68,378.40 560.00,378.30 C568.32,378.20 579.17,378.08 585.00,378.00 C590.83,377.92 592.18,377.98 595.00,377.80 C597.82,377.62 599.82,377.52 601.90,376.90 C603.98,376.28 606.02,374.95 607.50,374.10 C608.98,373.25 609.87,372.32 610.80,371.80 C611.73,371.28 612.35,371.65 613.10,371.00 C613.85,370.35 614.37,369.35 615.30,367.90 C616.23,366.45 617.75,363.65 618.70,362.30 C619.65,360.95 619.95,360.97 621.00,359.80 C622.05,358.63 623.72,356.33 625.00,355.30 C626.28,354.27 627.72,353.47 628.70,353.60 C629.68,353.73 630.32,355.10 630.90,356.10 C631.48,357.10 631.62,358.02 632.20,359.60 C632.78,361.18 633.65,363.75 634.40,365.60 C635.15,367.45 635.95,369.38 636.70,370.70 C637.45,372.02 638.15,372.75 638.90,373.50 C639.65,374.25 640.45,374.63 641.20,375.20 C641.95,375.77 642.28,376.43 643.40,376.90 C644.52,377.37 646.47,377.73 647.90,378.00 C649.33,378.27 648.13,378.40 652.00,378.50 C655.87,378.60 667.92,378.58 671.10,378.60" fill="none" stroke="#000" stroke-width="1.60" stroke-linejoin="round" stroke-linecap="butt"/>
<path d="M535.10,403.90 C539.25,403.87 553.35,403.77 560.00,403.70 C566.65,403.63 570.83,403.57 575.00,403.50 C579.17,403.43 581.83,403.47 585.00,403.30 C588.17,403.13 591.38,402.78 594.00,402.50 C596.62,402.22 598.83,402.22 600.70,401.60 C602.57,400.98 603.88,399.93 605.20,398.80 C606.52,397.67 607.47,396.40 608.60,394.80 C609.73,393.20 611.07,390.97 612.00,389.20 C612.93,387.43 613.45,385.88 614.20,384.20 C614.95,382.52 615.75,380.32 616.50,379.10 C617.25,377.88 617.95,377.37 618.70,376.90 C619.45,376.43 620.25,376.22 621.00,376.30 C621.75,376.38 622.65,376.93 623.20,377.40 C623.75,377.87 623.73,377.97 624.30,379.10 C624.87,380.23 625.85,382.33 626.60,384.20 C627.35,386.07 628.05,388.33 628.80,390.30 C629.55,392.27 630.35,394.50 631.10,396.00 C631.85,397.50 632.37,398.28 633.30,399.30 C634.23,400.32 635.38,401.43 636.70,402.10 C638.02,402.77 639.32,403.02 641.20,403.30 C643.08,403.58 643.02,403.70 648.00,403.80 C652.98,403.90 667.25,403.88 671.10,403.90 Z" fill="#F8766D" fill-opacity="0.50" stroke="none"/><path d="M535.10,403.90 C539.25,403.87 553.35,403.77 560.00,403.70 C566.65,403.63 570.83,403.57 575.00,403.50 C579.17,403.43 581.83,403.47 585.00,403.30 C588.17,403.13 591.38,402.78 594.00,402.50 C596.62,402.22 598.83,402.22 600.70,401.60 C602.57,400.98 603.88,399.93 605.20,398.80 C606.52,397.67 607.47,396.40 608.60,394.80 C609.73,393.20 611.07,390.97 612.00,389.20 C612.93,387.43 613.45,385.88 614.20,384.20 C614.95,382.52 615.75,380.32 616.50,379.10 C617.25,377.88 617.95,377.37 618.70,376.90 C619.45,376.43 620.25,376.22 621.00,376.30 C621.75,376.38 622.65,376.93 623.20,377.40 C623.75,377.87 623.73,377.97 624.30,379.10 C624.87,380.23 625.85,382.33 626.60,384.20 C627.35,386.07 628.05,388.33 628.80,390.30 C629.55,392.27 630.35,394.50 631.10,396.00 C631.85,397.50 632.37,398.28 633.30,399.30 C634.23,400.32 635.38,401.43 636.70,402.10 C638.02,402.77 639.32,403.02 641.20,403.30 C643.08,403.58 643.02,403.70 648.00,403.80 C652.98,403.90 667.25,403.88 671.10,403.90" fill="none" stroke="#000" stroke-width="1.60" stroke-linejoin="round" stroke-linecap="butt"/>
<line x1="642.00" y1="418.70" x2="642.00" y2="283.67" stroke="#000" stroke-width="1.4" stroke-dasharray="3.2,2.6"/>
<path d="M528.10,282.50 L528.10,418.70 L684.00,418.70" fill="none" stroke="#000" stroke-width="1.7" stroke-linejoin="round" stroke-linecap="butt"/>
<line x1="524.30" y1="328.00" x2="528.10" y2="328.00" stroke="#333" stroke-width="1.1"/>
<text x="522.00" y="331.00" font-size="10.00" text-anchor="end" font-weight="normal" fill="#111" >Non−Targeting</text>
<text x="565.60" y="324.90" font-size="11.40" text-anchor="end" font-weight="normal" fill="#111" >0.00</text>
<line x1="524.30" y1="353.30" x2="528.10" y2="353.30" stroke="#333" stroke-width="1.1"/>
<text x="522.00" y="356.30" font-size="10.00" text-anchor="end" font-weight="normal" fill="#111" >Enhancer B</text>
<text x="565.60" y="350.20" font-size="11.40" text-anchor="end" font-weight="normal" fill="#111" >-1.25</text>
<line x1="524.30" y1="378.60" x2="528.10" y2="378.60" stroke="#333" stroke-width="1.1"/>
<text x="522.00" y="381.60" font-size="10.00" text-anchor="end" font-weight="normal" fill="#111" >Enhancer A</text>
<text x="565.60" y="375.50" font-size="11.40" text-anchor="end" font-weight="normal" fill="#111" >-1.42</text>
<line x1="524.30" y1="403.90" x2="528.10" y2="403.90" stroke="#333" stroke-width="1.1"/>
<text x="522.00" y="406.90" font-size="10.00" text-anchor="end" font-weight="normal" fill="#111" >Enhancer A+B</text>
<text x="565.60" y="400.80" font-size="11.40" text-anchor="end" font-weight="normal" fill="#111" >-1.89</text>
<line x1="583.00" y1="418.70" x2="583.00" y2="421.70" stroke="#333" stroke-width="1.1"/>
<text x="582.20" y="430.70" font-size="9.80" text-anchor="middle" font-weight="normal" fill="#111" >−5</text>
<line x1="642.00" y1="418.70" x2="642.00" y2="421.70" stroke="#333" stroke-width="1.1"/>
<text x="641.20" y="430.70" font-size="9.80" text-anchor="middle" font-weight="normal" fill="#111" >0</text>
<text x="604.50" y="441.40" font-size="10.00" text-anchor="middle" fill="#111">High bin log<tspan font-size="6.20" dy="3.3">2</tspan><tspan dy="-3.3"> fold change</tspan></text>
<text x="533.00" y="294.00" font-size="10.00" text-anchor="start" font-weight="normal" fill="#111" >100 nM Dex</text>
</svg></body></html>
